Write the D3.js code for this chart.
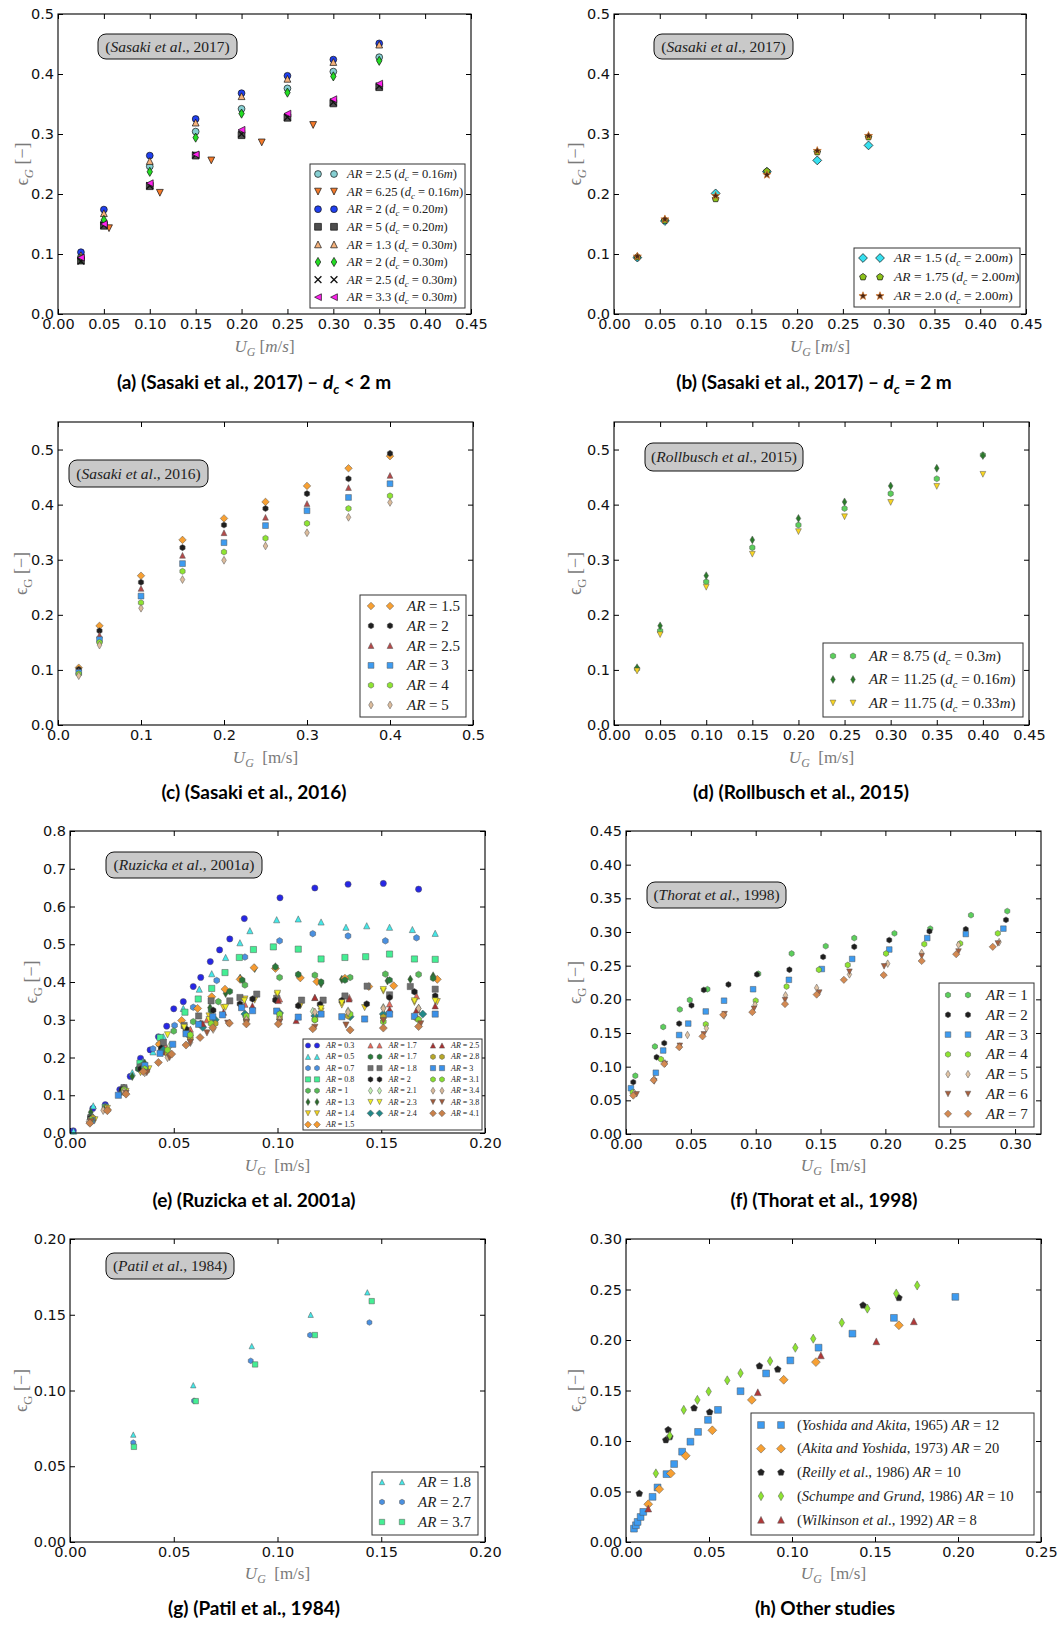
<!DOCTYPE html>
<html><head><meta charset="utf-8">
<script src="https://cdn.jsdelivr.net/npm/d3@7"></script>
<style>
body{margin:0;background:#fff;}
svg{display:block;}
text{white-space:pre;}
.tick text{font-family:"DejaVu Sans","Verdana",sans-serif;}
</style></head><body>
<svg id="fig" width="1063" height="1625"></svg>
<script>
// ---------- (a) Sasaki et al., 2017, dc < 2 m ----------
const aUG = [0.025, 0.05, 0.10, 0.15, 0.20, 0.25, 0.30, 0.35];
const aAR25d016 = [0.095, 0.152, 0.246, 0.304, 0.342, 0.376, 0.404, 0.428];
const aAR625UG = [0.0556, 0.111, 0.167, 0.222, 0.278];
const aAR625d016 = [0.143, 0.202, 0.256, 0.286, 0.315];
const aAR2d020 = [0.103, 0.174, 0.264, 0.325, 0.368, 0.397, 0.424, 0.451];
const aAR5d020 = [0.089, 0.147, 0.213, 0.264, 0.298, 0.327, 0.351, 0.378];
const aAR13d030 = [0.098, 0.168, 0.255, 0.319, 0.363, 0.392, 0.420, 0.449];
const aAR2d030 = [0.092, 0.157, 0.237, 0.294, 0.334, 0.369, 0.396, 0.422];
const aAR25d030 = [0.088, 0.148, 0.214, 0.265, 0.300, 0.328, 0.353, 0.380];
const aAR33d030 = [0.094, 0.150, 0.218, 0.266, 0.307, 0.334, 0.358, 0.384];
const aLabels = ["AR=2.5 (d_c=0.16m)", "AR=6.25 (d_c=0.16m)", "AR=2 (d_c=0.20m)", "AR=5 (d_c=0.20m)",
  "AR=1.3 (d_c=0.30m)", "AR=2 (d_c=0.30m)", "AR=2.5 (d_c=0.30m)", "AR=3.3 (d_c=0.30m)"];

// ---------- (b) Sasaki et al., 2017, dc = 2 m ----------
const bUG = [0.0255, 0.0556, 0.111, 0.167, 0.222, 0.278];
const bAR15 = [0.094, 0.155, 0.201, 0.237, 0.256, 0.281];
const bAR175 = [0.095, 0.156, 0.192, 0.238, 0.270, 0.295];
const bAR20 = [0.096, 0.158, 0.197, 0.232, 0.272, 0.297];
const bLabels = ["AR=1.5 (d_c=2.00m)", "AR=1.75 (d_c=2.00m)", "AR=2.0 (d_c=2.00m)"];

// ---------- (c) Sasaki et al., 2016 ----------
const cUG = [0.025, 0.05, 0.10, 0.15, 0.20, 0.25, 0.30, 0.35, 0.40];
const cAR15 = [0.104, 0.180, 0.271, 0.336, 0.375, 0.405, 0.434, 0.466, 0.488];
const cAR2 = [0.101, 0.171, 0.259, 0.322, 0.363, 0.393, 0.420, 0.447, 0.493];
const cAR25 = [0.098, 0.163, 0.248, 0.308, 0.349, 0.377, 0.402, 0.431, 0.453];
const cAR3 = [0.0955, 0.155, 0.234, 0.293, 0.331, 0.362, 0.389, 0.413, 0.438];
const cAR4 = [0.093, 0.150, 0.222, 0.279, 0.314, 0.339, 0.366, 0.393, 0.416];
const cAR5 = [0.0895, 0.145, 0.212, 0.264, 0.299, 0.325, 0.349, 0.377, 0.404];
const cLabels = ["AR=1.5", "AR=2", "AR=2.5", "AR=3", "AR=4", "AR=5"];

// ---------- (d) Rollbusch et al., 2015 ----------
const dUG = [0.025, 0.05, 0.10, 0.15, 0.20, 0.25, 0.30, 0.35, 0.40];
const dAR875 = [0.102, 0.171, 0.260, 0.322, 0.363, 0.393, 0.420, 0.447, 0.490];
const dAR1125 = [0.104, 0.180, 0.271, 0.336, 0.375, 0.405, 0.434, 0.466, 0.489];
const dAR1175 = [0.098, 0.164, 0.250, 0.310, 0.351, 0.378, 0.404, 0.433, 0.455];
const dLabels = ["AR=8.75 (d_c=0.3m)", "AR=11.25 (d_c=0.16m)", "AR=11.75 (d_c=0.33m)"];

// ---------- (e) Ruzicka et al., 2001a : [U_G, eps_G] ----------
const ruzAR03 = [[0.0016,0.006],[0.011,0.065],[0.017,0.075],[0.024,0.115],[0.029,0.15],[0.034,0.198],[0.0386,0.22],[0.0426,0.255],[0.0466,0.283],[0.050,0.329],[0.0546,0.348],[0.0594,0.388],[0.063,0.412],[0.0676,0.454],[0.0721,0.485],[0.077,0.514],[0.084,0.568],[0.1012,0.623],[0.118,0.649],[0.134,0.659],[0.151,0.661],[0.168,0.646]];
const ruzAR05 = [[0.0017,0.005],[0.0112,0.072],[0.017,0.072],[0.025,0.12],[0.030,0.16],[0.035,0.19],[0.040,0.215],[0.045,0.255],[0.0546,0.330],[0.0623,0.381],[0.0683,0.422],[0.075,0.465],[0.0819,0.504],[0.0867,0.536],[0.0996,0.565],[0.110,0.567],[0.121,0.559],[0.133,0.545],[0.143,0.549],[0.154,0.545],[0.165,0.539],[0.176,0.529]];
const ruzAR07 = [[0.010,0.04],[0.017,0.07],[0.026,0.12],[0.033,0.17],[0.040,0.223],[0.0504,0.285],[0.0594,0.333],[0.0707,0.404],[0.0843,0.466],[0.101,0.509],[0.117,0.528],[0.134,0.522],[0.152,0.509],[0.167,0.517]];
const ruzAR08 = [[0.010,0.035],[0.017,0.068],[0.026,0.115],[0.0337,0.185],[0.0434,0.253],[0.0554,0.320],[0.0618,0.355],[0.0683,0.383],[0.0747,0.425],[0.0816,0.465],[0.0884,0.486],[0.098,0.493],[0.110,0.487],[0.121,0.461],[0.1325,0.465],[0.1425,0.467],[0.154,0.474],[0.166,0.461],[0.176,0.46]];
const ruzAR1 = [[0.010,0.04],[0.017,0.068],[0.026,0.12],[0.035,0.18],[0.043,0.235],[0.050,0.27],[0.0594,0.295],[0.0715,0.348],[0.0843,0.392],[0.101,0.412],[0.118,0.418],[0.135,0.412],[0.152,0.421],[0.168,0.420]];
const ruzAR13 = [[0.010,0.055],[0.017,0.065],[0.025,0.11],[0.030,0.15],[0.036,0.185],[0.045,0.23],[0.055,0.28],[0.0675,0.332],[0.075,0.37],[0.082,0.410],[0.089,0.436],[0.099,0.440],[0.110,0.418],[0.121,0.396],[0.131,0.407],[0.153,0.403],[0.164,0.407],[0.175,0.416]];
const ruzAR14 = [[0.011,0.035],[0.018,0.065],[0.026,0.11],[0.034,0.16],[0.045,0.22],[0.057,0.27],[0.067,0.31],[0.074,0.332],[0.0843,0.355],[0.089,0.352],[0.0999,0.366],[0.111,0.337],[0.121,0.323],[0.131,0.339],[0.142,0.332],[0.151,0.376],[0.166,0.346],[0.177,0.348]];
const ruzAR15 = [[0.010,0.03],[0.018,0.062],[0.026,0.115],[0.035,0.175],[0.043,0.235],[0.0538,0.298],[0.0615,0.330],[0.0683,0.361],[0.0747,0.381],[0.082,0.407],[0.0887,0.438],[0.099,0.436],[0.111,0.411],[0.119,0.401],[0.1325,0.410],[0.144,0.388],[0.156,0.390],[0.177,0.407]];
const ruzAR17a = [[0.011,0.04],[0.026,0.12],[0.036,0.18],[0.046,0.23],[0.058,0.275],[0.066,0.30],[0.0843,0.341],[0.101,0.355],[0.118,0.359],[0.1346,0.359],[0.154,0.342],[0.167,0.363]];
const ruzAR17b = [[0.010,0.045],[0.025,0.11],[0.033,0.17],[0.044,0.22],[0.056,0.27],[0.068,0.325],[0.077,0.375],[0.083,0.405],[0.099,0.44],[0.110,0.42],[0.121,0.40],[0.1325,0.405],[0.154,0.405],[0.175,0.41]];
const ruzAR18 = [[0.010,0.04],[0.026,0.12],[0.034,0.175],[0.045,0.24],[0.055,0.285],[0.062,0.31],[0.068,0.35],[0.077,0.35],[0.0819,0.359],[0.090,0.368],[0.0996,0.357],[0.1116,0.352],[0.122,0.352],[0.1325,0.363],[0.1432,0.389],[0.154,0.366],[0.164,0.388],[0.176,0.381]];
const ruzAR2 = [[0.010,0.04],[0.025,0.115],[0.034,0.17],[0.044,0.225],[0.056,0.275],[0.063,0.29],[0.069,0.325],[0.0819,0.342],[0.088,0.355],[0.099,0.352],[0.110,0.337],[0.1205,0.341],[0.131,0.351],[0.143,0.342],[0.154,0.359],[0.166,0.374],[0.176,0.363]];
const ruzAR21 = [[0.011,0.04],[0.026,0.11],[0.037,0.17],[0.048,0.23],[0.058,0.26],[0.070,0.295],[0.0843,0.308],[0.101,0.313],[0.117,0.322],[0.134,0.323],[0.151,0.332],[0.168,0.330]];
const ruzAR23 = [[0.012,0.035],[0.027,0.11],[0.038,0.17],[0.047,0.26],[0.055,0.28],[0.067,0.30],[0.075,0.333],[0.084,0.35],[0.100,0.37],[0.121,0.33],[0.131,0.345],[0.151,0.38],[0.166,0.35],[0.176,0.35]];
const ruzAR24 = [[0.010,0.035],[0.026,0.11],[0.036,0.175],[0.045,0.22],[0.057,0.26],[0.064,0.28],[0.070,0.30],[0.0843,0.315],[0.101,0.318],[0.118,0.31],[0.135,0.308],[0.151,0.315],[0.170,0.315]];
const ruzAR25 = [[0.011,0.04],[0.026,0.115],[0.036,0.17],[0.046,0.215],[0.058,0.265],[0.064,0.29],[0.074,0.32],[0.0879,0.337],[0.1004,0.351],[0.109,0.298],[0.118,0.359],[0.1345,0.355],[0.154,0.328],[0.167,0.326],[0.176,0.337]];
const ruzAR28 = [[0.011,0.04],[0.026,0.11],[0.037,0.165],[0.047,0.21],[0.058,0.25],[0.070,0.29],[0.085,0.30],[0.101,0.305],[0.118,0.30],[0.134,0.31],[0.151,0.307],[0.167,0.304]];
const ruzAR3 = [[0.0104,0.033],[0.0233,0.10],[0.0361,0.179],[0.0434,0.211],[0.0495,0.235],[0.0559,0.263],[0.062,0.288],[0.0688,0.308],[0.0735,0.313],[0.0827,0.332],[0.088,0.324],[0.0996,0.323],[0.110,0.307],[0.121,0.315],[0.131,0.308],[0.142,0.302],[0.154,0.315],[0.166,0.309],[0.176,0.315]];
const ruzAR31 = [[0.010,0.035],[0.026,0.115],[0.036,0.17],[0.047,0.22],[0.058,0.26],[0.068,0.29],[0.085,0.31],[0.101,0.315],[0.118,0.30],[0.135,0.315],[0.151,0.295],[0.168,0.30]];
const ruzAR34 = [[0.009,0.03],[0.016,0.06],[0.026,0.11],[0.036,0.16],[0.047,0.20],[0.058,0.24],[0.069,0.275],[0.085,0.30],[0.101,0.30],[0.118,0.32],[0.134,0.32],[0.151,0.33],[0.168,0.33]];
const ruzAR38 = [[0.010,0.03],[0.027,0.105],[0.037,0.16],[0.048,0.20],[0.058,0.24],[0.066,0.265],[0.076,0.291],[0.085,0.293],[0.101,0.293],[0.118,0.280],[0.133,0.286],[0.151,0.298],[0.169,0.289]];
const ruzAR41 = [[0.0096,0.026],[0.018,0.059],[0.027,0.103],[0.0353,0.163],[0.0426,0.187],[0.049,0.209],[0.0559,0.233],[0.0627,0.253],[0.0688,0.279],[0.0768,0.291],[0.085,0.289],[0.1004,0.289],[0.117,0.276],[0.135,0.273],[0.151,0.278],[0.168,0.282]];
const eLabels = ["AR=0.3","AR=0.5","AR=0.7","AR=0.8","AR=1","AR=1.3","AR=1.4","AR=1.5","AR=1.7","AR=1.7","AR=1.8",
  "AR=2","AR=2.1","AR=2.3","AR=2.4","AR=2.5","AR=2.8","AR=3","AR=3.1","AR=3.4","AR=3.8","AR=4.1"];

// ---------- (f) Thorat et al., 1998 ----------
const thAR1 = [[0.0072,0.0865],[0.0223,0.130],[0.0287,0.159],[0.0415,0.185],[0.0492,0.199],[0.0628,0.215],[0.102,0.238],[0.1277,0.268],[0.154,0.279],[0.176,0.291],[0.207,0.298],[0.2346,0.305],[0.266,0.325],[0.294,0.331]];
const thAR2 = [[0.0056,0.077],[0.0236,0.114],[0.0295,0.135],[0.041,0.164],[0.0505,0.191],[0.060,0.214],[0.079,0.222],[0.101,0.237],[0.126,0.244],[0.152,0.263],[0.176,0.278],[0.203,0.288],[0.234,0.301],[0.262,0.304],[0.293,0.318]];
const thAR3 = [[0.0038,0.068],[0.023,0.091],[0.0287,0.124],[0.041,0.147],[0.048,0.164],[0.0615,0.182],[0.0756,0.198],[0.098,0.215],[0.1256,0.229],[0.151,0.245],[0.1744,0.260],[0.203,0.274],[0.2323,0.291],[0.262,0.297],[0.291,0.305]];
const thAR4 = [[0.0051,0.062],[0.027,0.111],[0.0615,0.163],[0.100,0.198],[0.1238,0.219],[0.1487,0.244],[0.171,0.251],[0.2005,0.268],[0.230,0.282],[0.2577,0.283],[0.2867,0.298]];
const thAR5 = [[0.0064,0.061],[0.0218,0.0815],[0.030,0.105],[0.0415,0.130],[0.0474,0.147],[0.062,0.157],[0.0756,0.176],[0.0995,0.192],[0.123,0.206],[0.147,0.217],[0.1723,0.237],[0.2018,0.253],[0.228,0.269],[0.2564,0.281],[0.2877,0.285]];
const thAR6 = [[0.0082,0.059],[0.0218,0.078],[0.030,0.104],[0.0415,0.131],[0.060,0.148],[0.076,0.178],[0.0987,0.186],[0.1226,0.199],[0.149,0.210],[0.1723,0.241],[0.199,0.249],[0.228,0.264],[0.2564,0.271],[0.2867,0.283]];
const thAR7 = [[0.0056,0.057],[0.0213,0.080],[0.0295,0.104],[0.041,0.129],[0.059,0.145],[0.075,0.177],[0.0974,0.181],[0.1226,0.193],[0.147,0.207],[0.168,0.229],[0.1987,0.236],[0.228,0.257],[0.2546,0.267],[0.2828,0.278]];
const fLabels = ["AR=1","AR=2","AR=3","AR=4","AR=5","AR=6","AR=7"];

// ---------- (g) Patil et al., 1984 ----------
const paAR18 = [[0.0305,0.0709],[0.0594,0.1035],[0.0876,0.1293],[0.116,0.150],[0.1433,0.1648]];
const paAR27 = [[0.0305,0.0656],[0.0598,0.0932],[0.0871,0.1196],[0.1157,0.1366],[0.1443,0.1449]];
const paAR37 = [[0.0308,0.0628],[0.0606,0.0930],[0.0892,0.1172],[0.118,0.1366],[0.1454,0.159]];
const gLabels = ["AR=1.8","AR=2.7","AR=3.7"];

// ---------- (h) other studies ----------
const yoshida1965 = [[0.0048,0.0132],[0.006,0.0166],[0.007,0.0199],[0.0088,0.0248],[0.0104,0.0298],[0.016,0.0447],[0.019,0.054],[0.0244,0.0672],[0.029,0.0772],[0.0338,0.0894],[0.0388,0.0993],[0.0434,0.109],[0.0494,0.1209],[0.0554,0.1308],[0.069,0.1493],[0.0844,0.1669],[0.099,0.1798],[0.116,0.1924],[0.1364,0.2063],[0.1614,0.2219],[0.1984,0.2427]];
const akita1973 = [[0.0134,0.0374],[0.020,0.0523],[0.027,0.0679],[0.036,0.0854],[0.052,0.1106],[0.0758,0.1407],[0.095,0.1606],[0.1144,0.1781],[0.1644,0.2146]];
const reilly1986 = [[0.008,0.048],[0.024,0.101],[0.0254,0.111],[0.0264,0.104],[0.041,0.1325],[0.0504,0.1285],[0.0804,0.1742],[0.0914,0.1709],[0.1428,0.2344],[0.1644,0.2417]];
const schumpe1986 = [[0.018,0.0679],[0.0264,0.1053],[0.0348,0.1308],[0.043,0.1407],[0.0498,0.149],[0.061,0.160],[0.069,0.1672],[0.0868,0.1791],[0.102,0.1924],[0.1128,0.2013],[0.130,0.2172],[0.1454,0.2311],[0.1628,0.246],[0.1754,0.254]];
const wilkinson1992 = [[0.0134,0.0331],[0.0794,0.1483],[0.1174,0.1848],[0.1508,0.1987],[0.1734,0.2185]];
const hLabels = ["(Yoshida and Akita, 1965) AR=12", "(Akita and Yoshida, 1973) AR=20", "(Reilly et al., 1986) AR=10",
  "(Schumpe and Grund, 1986) AR=10", "(Wilkinson et al., 1992) AR=8"];

// ---------- tick values ----------
const ticks000to045 = [0, 0.05, 0.10, 0.15, 0.20, 0.25, 0.30, 0.35, 0.40, 0.45];
const ticks00to05 = [0, 0.1, 0.2, 0.3, 0.4, 0.5];
const ticks00to08 = [0, 0.1, 0.2, 0.3, 0.4, 0.5, 0.6, 0.7, 0.8];
const ticks000to020 = [0, 0.05, 0.10, 0.15, 0.20];
const ticks000to025 = [0, 0.05, 0.10, 0.15, 0.20, 0.25];
const ticks000to030 = [0, 0.05, 0.10, 0.15, 0.20, 0.25, 0.30];

// ---------- drawing helpers ----------
const SERIF = "'Liberation Serif','DejaVu Serif',serif";
const SANS = '"DejaVu Sans","Verdana",sans-serif';
const svg = d3.select('#fig');
svg.append('rect').attr('width', 1063).attr('height', 1625).attr('fill', '#fff');

function poly(pts) { return 'M' + pts.map(p => p[0].toFixed(2) + ',' + p[1].toFixed(2)).join('L') + 'Z'; }
function regular(n, r, rot) {
  return d3.range(n).map(i => { const a = rot + i * 2 * Math.PI / n; return [r * Math.sin(a), -r * Math.cos(a)]; });
}
function markerPath(shape, r) {
  switch (shape) {
    case 'o': return `M${r},0A${r},${r} 0 1,1 ${-r},0A${r},${r} 0 1,1 ${r},0Z`;
    case '^': return poly([[0, -r], [r, r], [-r, r]]);
    case 'v': return poly([[0, r], [r, -r], [-r, -r]]);
    case '<': return poly([[-r, 0], [r, -r], [r, r]]);
    case 's': return poly([[-r, -r], [r, -r], [r, r], [-r, r]]);
    case 'D': { const q = r * 1.3; return poly([[0, -q], [q, 0], [0, q], [-q, 0]]); }
    case 'd': { const q = r * 1.35, w = r * 0.8; return poly([[0, -q], [w, 0], [0, q], [-w, 0]]); }
    case 'h': return poly(regular(6, r * 1.05, 0));
    case 'p': return poly(regular(5, r * 1.05, 0));
    case '*': { const o = r * 1.25, i = o * 0.42; return poly(d3.range(10).map(k => { const a = k * Math.PI / 5; const rr = k % 2 ? i : o; return [rr * Math.sin(a), -rr * Math.cos(a)]; })); }
    case 'x': return `M${-r},${-r}L${r},${r}M${-r},${r}L${r},${-r}`;
  }
}
function drawMarker(g, s, cx, cy, r, edge, ew) {
  const p = g.append('path').attr('d', markerPath(s.shape, r)).attr('transform', `translate(${cx},${cy})`);
  if (s.shape === 'x') p.attr('fill', 'none').attr('stroke', s.color).attr('stroke-width', 1.3);
  else p.attr('fill', s.color).attr('stroke', s.edge || edge).attr('stroke-width', ew);
}

// math-style label: letters italic, digits/punctuation upright, "_c" subscript
function parseMath(str) {
  const segs = [];
  const re = /_(.)|([A-Za-z]+)|([^A-Za-z_]+)/g;
  let m;
  while ((m = re.exec(str))) {
    if (m[1] !== undefined) segs.push([m[1], /[A-Za-z]/.test(m[1]) ? 'subi' : 'subr']);
    else if (m[2] !== undefined) segs.push([m[2], 'i']);
    else segs.push([m[3].replace(/=/g, ' = '), 'r']);
  }
  return segs;
}
function richText(g, segs, x, y, fs, opts) {
  opts = opts || {};
  const t = g.append('text').attr('x', x).attr('y', y).attr('font-size', fs)
    .style('font-family', opts.family || SERIF).attr('fill', opts.fill || '#000')
    .attr('text-anchor', opts.anchor || 'start');
  if (opts.weight) t.attr('font-weight', opts.weight);
  let shift = 0;
  segs.forEach(([txt, st]) => {
    const sp = t.append('tspan').text(txt);
    if (st === 'subi' || st === 'subr') {
      const d = fs * 0.25;
      sp.attr('font-size', fs * 0.7).attr('dy', d);
      shift = d;
      if (st === 'subi') sp.attr('font-style', 'italic');
    } else {
      if (shift) { sp.attr('dy', -shift); shift = 0; }
      if (st === 'i') sp.attr('font-style', 'italic');
    }
  });
  return t;
}

function drawPanel(p) {
  const x = d3.scaleLinear().domain(p.xDomain).range([p.left, p.right]);
  const y = d3.scaleLinear().domain(p.yDomain).range([p.bottom, p.top]);
  const g = svg.append('g');
  const styleAxis = a => {
    a.attr('font-family', null).attr('font-size', null);
    a.select('.domain').remove();
    a.selectAll('.tick line').attr('stroke', '#000').attr('stroke-width', 1);
    a.selectAll('text').style('font-family', SANS).style('font-size', '14.5px').attr('fill', '#111');
  };
  g.append('g').attr('transform', `translate(0,${p.bottom})`)
    .call(d3.axisBottom(x).tickValues(p.xTicks).tickFormat(d3.format(p.xFmt)).tickSizeInner(-5).tickSizeOuter(0).tickPadding(5)).call(styleAxis);
  g.append('g').attr('transform', `translate(0,${p.top})`)
    .call(d3.axisTop(x).tickValues(p.xTicks).tickFormat('').tickSizeInner(-5).tickSizeOuter(0)).call(styleAxis);
  g.append('g').attr('transform', `translate(${p.left},0)`)
    .call(d3.axisLeft(y).tickValues(p.yTicks).tickFormat(d3.format(p.yFmt)).tickSizeInner(-5).tickSizeOuter(0).tickPadding(4)).call(styleAxis);
  g.append('g').attr('transform', `translate(${p.right},0)`)
    .call(d3.axisRight(y).tickValues(p.yTicks).tickFormat('').tickSizeInner(-5).tickSizeOuter(0)).call(styleAxis);

  // data points
  p.series.forEach(s => {
    s.data.forEach(d => drawMarker(g, s, x(d[0]), y(d[1]), p.r, p.edge, p.ew));
  });

  // frame
  g.append('rect').attr('x', p.left).attr('y', p.top).attr('width', p.right - p.left).attr('height', p.bottom - p.top)
    .attr('fill', 'none').attr('stroke', '#000').attr('stroke-width', 1.1);

  // source tag
  if (p.tag) {
    const [x0, y0, x1, y1] = p.tag.box;
    g.append('rect').attr('x', x0).attr('y', y0).attr('width', x1 - x0).attr('height', y1 - y0)
      .attr('rx', 8).attr('ry', 8).attr('fill', '#c9c9c9').attr('stroke', '#111').attr('stroke-width', 1);
    richText(g, parseMath(p.tag.text), (x0 + x1) / 2, (y0 + y1) / 2 + 5, 15.5, { anchor: 'middle', fill: '#222' });
  }

  // legend
  const L = p.legend;
  const [lx0, ly0, lx1, ly1] = L.box;
  g.append('rect').attr('x', lx0).attr('y', ly0).attr('width', lx1 - lx0).attr('height', ly1 - ly0)
    .attr('fill', '#fff').attr('stroke', '#333').attr('stroke-width', 1);
  p.series.forEach((s, i) => {
    let col = 0, row = i;
    if (L.columns) { col = L.columns.findIndex(c => c.includes(i)); row = L.columns[col].indexOf(i); }
    const cy = L.y0 + row * L.dy;
    const off = col * (L.colDx || 0);
    L.mx.forEach(mx => drawMarker(g, s, mx + off, cy, L.r || p.r, p.edge, p.ew));
    richText(g, parseMath(s.label), L.tx + off, cy + L.fs * 0.33, L.fs, { fill: '#222' });
  });

  // axis titles
  const ax = p.ylabel;
  const ly = (p.top + p.bottom) / 2;
  const yl = g.append('g').attr('transform', `translate(${ax},${ly}) rotate(-90)`);
  richText(yl, [['\u03F5', 'r'], ['G', p.italicG ? 'subi' : 'subr'], [' [\u2212]', 'r']], 0, 6, 18, { anchor: 'middle', fill: '#7a7a7a' });
  const xs = p.italicUnits ? [['U', 'i'], ['G', 'subi'], [' [', 'r'], ['m', 'i'], ['/', 'r'], ['s', 'i'], [']', 'r']]
    : [['U', 'i'], ['G', 'subi'], ['  [m/s]', 'r']];
  richText(g, xs, (p.left + p.right) / 2, p.xlabelY, 17, { anchor: 'middle', fill: '#7a7a7a' });

  // caption
  richText(g, p.caption, p.capX, p.capY, 19, { anchor: 'middle', family: "Lato,'Open Sans',sans-serif", weight: 'bold', fill: '#000' });
}

const zipUG = (ug, v) => d3.zip(ug, v);
const capTail = (rel) => [[' \u2013 ', 'r'], ['d', 'i'], ['c', 'subi'], [' ' + rel + ' 2 m', 'r']];

const panels = [
  { left: 58, right: 471, top: 14, bottom: 314, xDomain: [0, 0.45], yDomain: [0, 0.5],
    xTicks: ticks000to045, xFmt: '.2f', yTicks: ticks00to05, yFmt: '.1f', r: 3.4, edge: '#111', ew: 0.7,
    italicG: true, italicUnits: true, ylabel: 22, xlabelY: 352,
    tag: { box: [98, 34, 237, 59], text: '(Sasaki et al., 2017)' },
    legend: { box: [310, 164, 465, 308], y0: 174, dy: 17.6, mx: [318, 334], tx: 347, fs: 12.5 },
    caption: [['(a) (Sasaki et al., 2017)', 'r'], ...capTail('<')], capX: 254, capY: 389,
    series: [
      { data: zipUG(aUG, aAR25d016), shape: 'o', color: '#86cfd2', label: aLabels[0] },
      { data: zipUG(aAR625UG, aAR625d016), shape: 'v', color: '#f57a2a', label: aLabels[1] },
      { data: zipUG(aUG, aAR2d020), shape: 'o', color: '#1f3ff0', label: aLabels[2] },
      { data: zipUG(aUG, aAR5d020), shape: 's', color: '#4d4d4d', label: aLabels[3] },
      { data: zipUG(aUG, aAR13d030), shape: '^', color: '#f6b27c', label: aLabels[4] },
      { data: zipUG(aUG, aAR2d030), shape: 'd', color: '#22dd22', label: aLabels[5] },
      { data: zipUG(aUG, aAR25d030), shape: 'x', color: '#111', label: aLabels[6] },
      { data: zipUG(aUG, aAR33d030), shape: '<', color: '#ff22ee', label: aLabels[7] }
    ] },
  { left: 614, right: 1026, top: 14, bottom: 314, xDomain: [0, 0.45], yDomain: [0, 0.5],
    xTicks: ticks000to045, xFmt: '.2f', yTicks: ticks00to05, yFmt: '.1f', r: 3.4, edge: '#111', ew: 0.7,
    italicG: true, italicUnits: true, ylabel: 575, xlabelY: 352,
    tag: { box: [654, 34, 793, 59], text: '(Sasaki et al., 2017)' },
    legend: { box: [854, 248, 1020, 307], y0: 258, dy: 19, mx: [863, 880], tx: 894, fs: 13.5 },
    caption: [['(b) (Sasaki et al., 2017)', 'r'], ...capTail('=')], capX: 814, capY: 389,
    series: [
      { data: zipUG(bUG, bAR15), shape: 'D', color: '#36e0f0', label: bLabels[0] },
      { data: zipUG(bUG, bAR175), shape: 'p', color: '#8cc21a', label: bLabels[1] },
      { data: zipUG(bUG, bAR20), shape: '*', color: '#4a2614', edge: '#d4782e', label: bLabels[2] }
    ] },
  { left: 58, right: 473, top: 422, bottom: 725, xDomain: [0, 0.5], yDomain: [0, 0.55],
    xTicks: ticks00to05, xFmt: '.1f', yTicks: ticks00to05, yFmt: '.1f', r: 2.9, edge: '#555', ew: 0.5,
    ylabel: 21, xlabelY: 763,
    tag: { box: [69, 460, 208, 487], text: '(Sasaki et al., 2016)' },
    legend: { box: [360, 595, 466, 717], y0: 606, dy: 19.8, mx: [371, 390], tx: 407, fs: 15 },
    caption: [['(c) (Sasaki et al., 2016)', 'r']], capX: 254, capY: 799,
    series: [
      { data: zipUG(cUG, cAR15), shape: 'D', color: '#f7a033', label: cLabels[0] },
      { data: zipUG(cUG, cAR2), shape: 'h', color: '#1e1e1e', label: cLabels[1] },
      { data: zipUG(cUG, cAR25), shape: '^', color: '#b34a4a', label: cLabels[2] },
      { data: zipUG(cUG, cAR3), shape: 's', color: '#3d9bf0', label: cLabels[3] },
      { data: zipUG(cUG, cAR4), shape: 'h', color: '#8ee432', label: cLabels[4] },
      { data: zipUG(cUG, cAR5), shape: 'd', color: '#dcbc9c', label: cLabels[5] }
    ] },
  { left: 614, right: 1029, top: 422, bottom: 725, xDomain: [0, 0.45], yDomain: [0, 0.55],
    xTicks: ticks000to045, xFmt: '.2f', yTicks: ticks00to05, yFmt: '.1f', r: 2.9, edge: '#555', ew: 0.5,
    ylabel: 575, xlabelY: 763,
    tag: { box: [645, 443, 803, 471], text: '(Rollbusch et al., 2015)' },
    legend: { box: [823, 643, 1023, 717], y0: 656, dy: 23.5, mx: [833, 853], tx: 869, fs: 15 },
    caption: [['(d) (Rollbusch et al., 2015)', 'r']], capX: 801, capY: 799,
    series: [
      { data: zipUG(dUG, dAR875), shape: 'h', color: '#5ccf5c', label: dLabels[0] },
      { data: zipUG(dUG, dAR1125), shape: 'd', color: '#2a7a2a', label: dLabels[1] },
      { data: zipUG(dUG, dAR1175), shape: 'v', color: '#f8d522', label: dLabels[2] }
    ] },
  { left: 70, right: 485, top: 831, bottom: 1133, xDomain: [0, 0.2], yDomain: [0, 0.8],
    xTicks: ticks000to020, xFmt: '.2f', yTicks: ticks00to08, yFmt: '.1f', r: 3.1, edge: '#555', ew: 0.5,
    ylabel: 31, xlabelY: 1171,
    tag: { box: [106, 852, 262, 878], text: '(Ruzicka et al., 2001a)' },
    legend: { box: [303, 1039, 482, 1130], y0: 1045.5, dy: 11.3, mx: [308, 317], tx: 326, fs: 8, r: 2.6,
      columns: [[0, 1, 2, 3, 4, 5, 6, 7], [8, 9, 10, 11, 12, 13, 14], [15, 16, 17, 18, 19, 20, 21]], colDx: 62.5 },
    caption: [['(e) (Ruzicka et al. 2001a)', 'r']], capX: 254, capY: 1207,
    series: [
      { data: ruzAR03, shape: 'o', color: '#2626e6', label: eLabels[0] },
      { data: ruzAR05, shape: '^', color: '#44e8e8', label: eLabels[1] },
      { data: ruzAR07, shape: 'h', color: '#4a90e0', label: eLabels[2] },
      { data: ruzAR08, shape: 's', color: '#44ee94', label: eLabels[3] },
      { data: ruzAR1, shape: 'h', color: '#58bb58', label: eLabels[4] },
      { data: ruzAR13, shape: 'd', color: '#2a6a2a', label: eLabels[5] },
      { data: ruzAR14, shape: 'v', color: '#f2d41e', label: eLabels[6] },
      { data: ruzAR15, shape: 'D', color: '#f59a30', label: eLabels[7] },
      { data: ruzAR17a, shape: '^', color: '#e8685a', label: eLabels[8] },
      { data: ruzAR17b, shape: 'h', color: '#2a7a3a', label: eLabels[9] },
      { data: ruzAR18, shape: 's', color: '#6e6e6e', label: eLabels[10] },
      { data: ruzAR2, shape: 'h', color: '#1e1e1e', label: eLabels[11] },
      { data: ruzAR21, shape: 'd', color: '#c2f0b2', label: eLabels[12] },
      { data: ruzAR23, shape: 'v', color: '#f0ee22', label: eLabels[13] },
      { data: ruzAR24, shape: 'D', color: '#228888', label: eLabels[14] },
      { data: ruzAR25, shape: '^', color: '#a83030', label: eLabels[15] },
      { data: ruzAR28, shape: 'h', color: '#b8a828', label: eLabels[16] },
      { data: ruzAR3, shape: 's', color: '#3a90e8', label: eLabels[17] },
      { data: ruzAR31, shape: 'h', color: '#88e030', label: eLabels[18] },
      { data: ruzAR34, shape: 'd', color: '#d8b898', label: eLabels[19] },
      { data: ruzAR38, shape: 'v', color: '#a05a3a', label: eLabels[20] },
      { data: ruzAR41, shape: 'D', color: '#c8804a', label: eLabels[21] }
    ] },
  { left: 626, right: 1041, top: 831, bottom: 1134, xDomain: [0, 0.32], yDomain: [0, 0.45],
    xTicks: ticks000to030, xFmt: '.2f', yTicks: ticks000to045, yFmt: '.2f', r: 2.8, edge: '#555', ew: 0.5,
    ylabel: 575, xlabelY: 1171,
    tag: { box: [647, 882, 786, 908], text: '(Thorat et al., 1998)' },
    legend: { box: [939, 983, 1034, 1127], y0: 995, dy: 19.8, mx: [948, 968], tx: 986, fs: 15 },
    caption: [['(f) (Thorat et al., 1998)', 'r']], capX: 824, capY: 1207,
    series: [
      { data: thAR1, shape: 'h', color: '#5ccf5c', label: fLabels[0] },
      { data: thAR2, shape: 'h', color: '#1e1e1e', label: fLabels[1] },
      { data: thAR3, shape: 's', color: '#3d9bf0', label: fLabels[2] },
      { data: thAR4, shape: 'h', color: '#8ee432', label: fLabels[3] },
      { data: thAR5, shape: 'd', color: '#e2c4a4', label: fLabels[4] },
      { data: thAR6, shape: 'v', color: '#a8603e', label: fLabels[5] },
      { data: thAR7, shape: 'D', color: '#d48a52', label: fLabels[6] }
    ] },
  { left: 70, right: 485, top: 1239, bottom: 1542, xDomain: [0, 0.2], yDomain: [0, 0.2],
    xTicks: ticks000to020, xFmt: '.2f', yTicks: ticks000to020, yFmt: '.2f', r: 2.7, edge: '#555', ew: 0.5,
    ylabel: 21, xlabelY: 1579,
    tag: { box: [106, 1253, 234, 1279], text: '(Patil et al., 1984)' },
    legend: { box: [372, 1472, 478, 1535], y0: 1482, dy: 20, mx: [382, 402], tx: 418, fs: 15 },
    caption: [['(g) (Patil et al., 1984)', 'r']], capX: 254, capY: 1615,
    series: [
      { data: paAR18, shape: '^', color: '#44e8e8', label: gLabels[0] },
      { data: paAR27, shape: 'h', color: '#4a90e0', label: gLabels[1] },
      { data: paAR37, shape: 's', color: '#44ee94', label: gLabels[2] }
    ] },
  { left: 626, right: 1041, top: 1239, bottom: 1542, xDomain: [0, 0.25], yDomain: [0, 0.30],
    xTicks: ticks000to025, xFmt: '.2f', yTicks: ticks000to030, yFmt: '.2f', r: 3.4, edge: '#555', ew: 0.5,
    ylabel: 575, xlabelY: 1579,
    legend: { box: [751, 1413, 1034, 1535], y0: 1425, dy: 23.7, mx: [761, 781], tx: 797, fs: 14.5 },
    caption: [['(h) Other studies', 'r']], capX: 825, capY: 1615,
    series: [
      { data: yoshida1965, shape: 's', color: '#3d9bf0', label: hLabels[0] },
      { data: akita1973, shape: 'D', color: '#f7a033', label: hLabels[1] },
      { data: reilly1986, shape: 'p', color: '#222', label: hLabels[2] },
      { data: schumpe1986, shape: 'd', color: '#8ee432', label: hLabels[3] },
      { data: wilkinson1992, shape: '^', color: '#b03838', label: hLabels[4] }
    ] }
];

panels.forEach(drawPanel);
</script></body></html>
